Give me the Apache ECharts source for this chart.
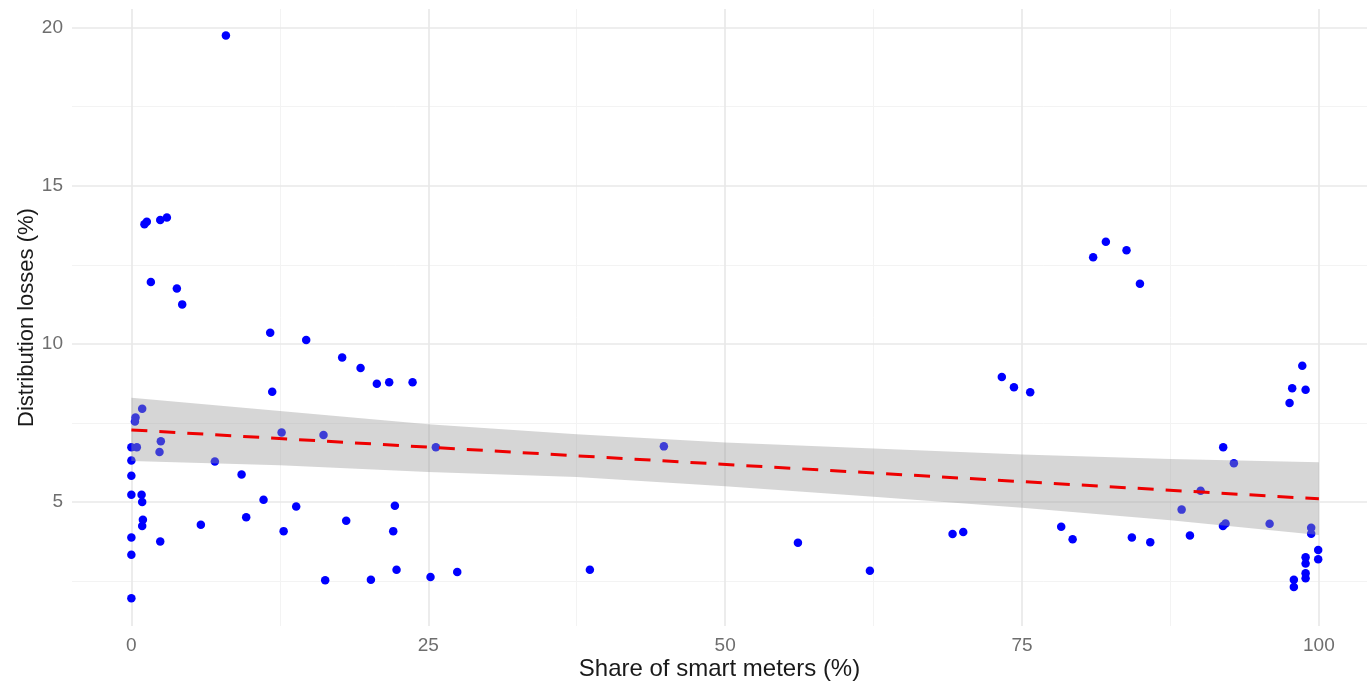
<!DOCTYPE html>
<html>
<head>
<meta charset="utf-8">
<script src="https://cdn.jsdelivr.net/npm/echarts@6/dist/echarts.min.js"></script>
<style>
html,body{margin:0;padding:0;background:#fff;}
#chart{width:1367px;height:686px;}
</style>
</head>
<body>
<div id="chart"></div>
<script>
// Scatter points: share of smart meters (%) and distribution losses (%)
const smartShare = [7.96,1.1,1.3,2.43,2.99,1.64,3.83,4.28,11.69,14.72,11.86,0.91,0.35,0.3,12.65,0,0.46,2.48,2.37,0,7.03,9.28,0,0,0.86,0.91,11.13,13.88,9.67,0.97,0.91,5.85,12.82,0,2.43,0,0,17.75,19.3,20.67,21.71,23.68,16.18,25.64,22.19,18.09,22.05,16.32,20.17,22.33,25.19,27.44,38.61,44.84,56.13,62.19,82.06,80.99,83.8,84.93,73.3,74.32,75.69,69.15,70.05,78.3,79.26,84.25,85.8,98.6,97.75,98.88,97.53,91.94,92.84,90.04,88.44,89.14,91.92,92.14,95.85,99.35,99.35,99.94,99.94,98.88,98.88,98.88,98.88,97.89,97.89];
const losses = [19.75,13.78,13.86,13.92,14.0,11.96,11.75,11.25,10.35,10.12,8.49,7.95,7.67,7.55,7.2,6.73,6.73,6.92,6.58,6.31,6.28,5.87,5.83,5.23,5.23,5.0,5.07,4.86,4.52,4.44,4.24,4.28,4.08,3.88,3.75,3.33,1.96,9.57,9.24,8.74,8.79,8.79,7.12,6.73,4.88,4.41,4.08,2.53,2.54,2.86,2.63,2.79,2.86,6.76,3.71,2.83,13.23,12.74,12.96,11.9,8.95,8.63,8.47,3.99,4.05,4.22,3.82,3.88,3.73,9.31,8.6,8.55,8.13,6.73,6.23,5.36,4.76,3.94,4.24,4.32,4.31,4.19,4.0,3.48,3.19,3.25,3.06,2.75,2.59,2.54,2.31];

// Linear fit line and confidence band
const fitX = [0, 100];
const fitY = [7.28, 5.10];
const bandX = [0, 12.5, 25, 37.5, 50, 62.5, 75, 87.5, 100];
const bandLo = [6.30, 6.16, 5.95, 5.79, 5.50, 5.17, 4.82, 4.42, 3.96];
const bandHi = [8.30, 7.88, 7.46, 7.14, 6.88, 6.69, 6.50, 6.36, 6.26];

// Axis ticks
const xMajor = [0, 25, 50, 75, 100];
const xMinor = [12.5, 37.5, 62.5, 87.5];
const yMajor = [5, 10, 15, 20];
const yMinor = [2.5, 7.5, 12.5, 17.5];

const FONT = "'Liberation Sans', Arial, sans-serif";
const chart = echarts.init(document.getElementById('chart'), null, {renderer: 'canvas'});

const majorStyle = {color: '#e8e8e8', width: 1.6, type: 'solid'};
const minorStyle = {color: '#f3f3f3', width: 1, type: 'solid'};
const tickLabel = {color: '#6e6e6e', fontSize: 19, fontFamily: FONT};

const gridLines = [];
xMinor.forEach(v => gridLines.push({xAxis: v, lineStyle: minorStyle, label: {show: false}}));
yMinor.forEach(v => gridLines.push({yAxis: v, lineStyle: minorStyle, label: {show: false}}));
xMajor.forEach(v => gridLines.push({xAxis: v, lineStyle: majorStyle,
  label: Object.assign({show: true, position: 'start', distance: 10, formatter: String(v)}, tickLabel)}));
yMajor.forEach(v => gridLines.push({yAxis: v, lineStyle: majorStyle,
  label: Object.assign({show: true, position: 'start', distance: 9, formatter: String(v)}, tickLabel)}));

const option = {
  backgroundColor: '#ffffff',
  animation: false,
  grid: {left: 72, right: 0, top: 9, bottom: 56, containLabel: false},
  xAxis: {
    type: 'value', min: -5, max: 104.05,
    name: 'Share of smart meters (%)', nameLocation: 'middle', nameGap: 31,
    nameTextStyle: {color: '#1a1a1a', fontSize: 24, fontFamily: FONT},
    axisLine: {show: false}, axisTick: {show: false}, axisLabel: {show: false}, splitLine: {show: false}
  },
  yAxis: {
    type: 'value', min: 1.08, max: 20.59,
    name: 'Distribution losses (%)', nameLocation: 'middle', nameGap: 34,
    nameTextStyle: {color: '#1a1a1a', fontSize: 22, fontFamily: FONT},
    axisLine: {show: false}, axisTick: {show: false}, axisLabel: {show: false}, splitLine: {show: false}
  },
  series: [
    {
      type: 'scatter', z: 2,
      symbol: 'circle', symbolSize: 8.5,
      itemStyle: {color: '#0000ff', opacity: 1},
      data: smartShare.map((x, i) => [x, losses[i]]),
      markLine: {silent: true, symbol: 'none', z: 1, animation: false, data: gridLines}
    },
    {
      type: 'custom', z: 3, silent: true,
      data: bandX.map((x, i) => [x, bandLo[i], bandHi[i]]),
      encode: {x: 0, y: [1, 2]},
      renderItem: function (params, api) {
        if (params.dataIndex !== 0) return null;
        const pts = [];
        for (let i = 0; i < bandX.length; i++) pts.push(api.coord([bandX[i], bandHi[i]]));
        for (let i = bandX.length - 1; i >= 0; i--) pts.push(api.coord([bandX[i], bandLo[i]]));
        return {type: 'polygon', shape: {points: pts}, style: {fill: 'rgba(153,153,153,0.4)'}};
      }
    },
    {
      type: 'line', z: 4, silent: true, symbol: 'none',
      lineStyle: {color: '#ee0000', width: 3, type: [16, 12]},
      data: fitX.map((x, i) => [x, fitY[i]])
    }
  ]
};
chart.setOption(option);
</script>
</body>
</html>
